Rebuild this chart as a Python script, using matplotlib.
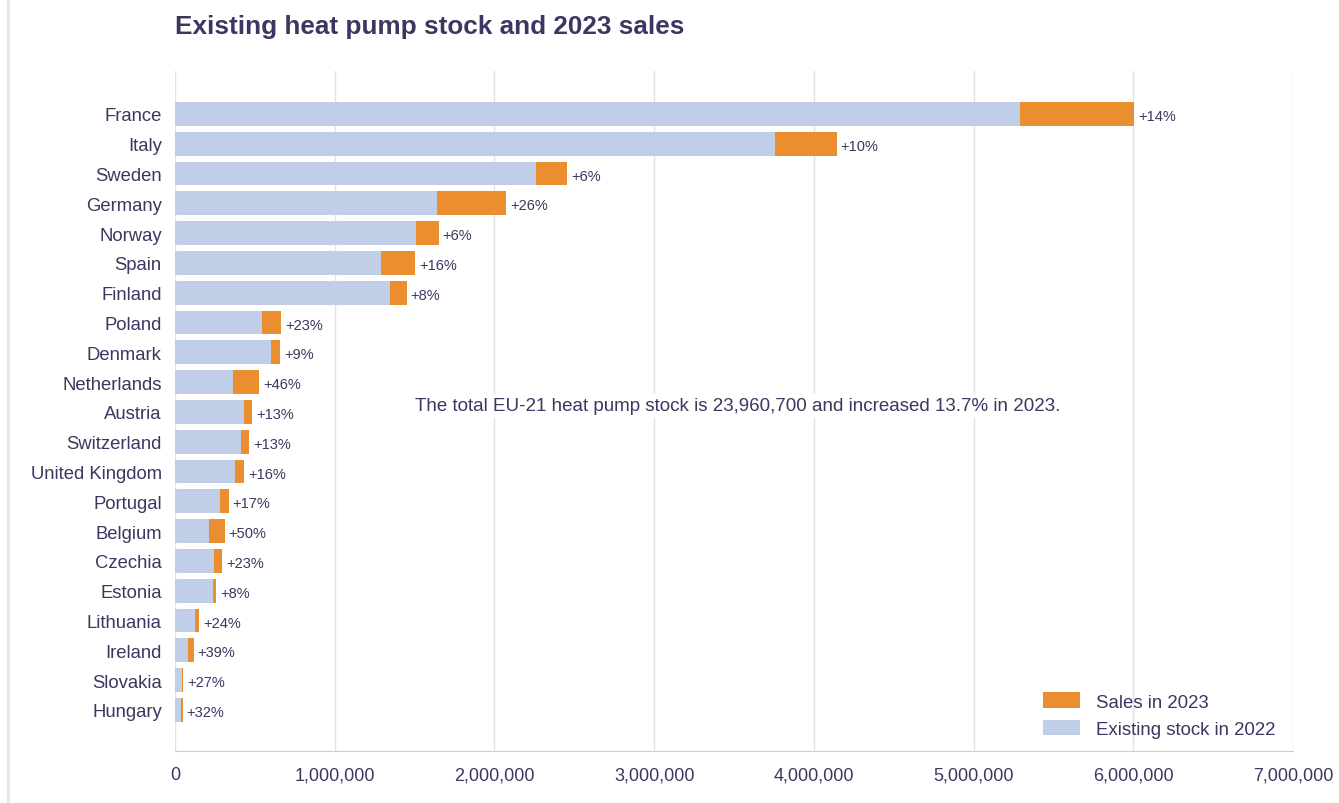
import matplotlib.pyplot as plt
from matplotlib.patches import Patch
from matplotlib.ticker import FuncFormatter

plt.rcParams['font.family'] = ['Liberation Sans', 'DejaVu Sans']

# countries top to bottom
countries = ['France', 'Italy', 'Sweden', 'Germany', 'Norway', 'Spain', 'Finland',
             'Poland', 'Denmark', 'Netherlands', 'Austria', 'Switzerland',
             'United Kingdom', 'Portugal', 'Belgium', 'Czechia', 'Estonia',
             'Lithuania', 'Ireland', 'Slovakia', 'Hungary']
# existing stock in 2022 (units)
stock_2022 = [5288000, 3758000, 2261000, 1638000, 1506000, 1290000, 1343000,
              542000, 603000, 363000, 432000, 413000,
              376000, 284000, 211000, 242000, 238000,
              123000, 83000, 42000, 38000]
# sales in 2023 (units)
sales_2023 = [718000, 384000, 196000, 435000, 144000, 212000, 107000,
              122000, 57000, 165000, 52000, 52000,
              58000, 51000, 100000, 54000, 19000,
              27000, 33000, 11000, 10000]
growth_labels = ['+14%', '+10%', '+6%', '+26%', '+6%', '+16%', '+8%',
                 '+23%', '+9%', '+46%', '+13%', '+13%',
                 '+16%', '+17%', '+50%', '+23%', '+8%',
                 '+24%', '+39%', '+27%', '+32%']
x_ticks = [0, 1000000, 2000000, 3000000, 4000000, 5000000, 6000000, 7000000]
note = 'The total EU-21 heat pump stock is 23,960,700 and increased 13.7% in 2023.'

text_col = '#3b3760'
stock_col = '#c0cee8'
sales_col = '#ea8e30'

fig = plt.figure(figsize=(13.39, 8.04), dpi=100)
ax = fig.add_axes([0.1307, 0.0647, 0.835, 0.8458])

ypos = list(range(len(countries)))
ax.barh(ypos, stock_2022, height=0.8, color=stock_col, zorder=2)
ax.barh(ypos, sales_2023, left=stock_2022, height=0.8, color=sales_col, zorder=2)

for y, s, v, lab in zip(ypos, stock_2022, sales_2023, growth_labels):
    ax.text(s + v + 25000, y + 0.07, lab, va='center', ha='left',
            fontsize=10.5, color=text_col, zorder=3)

ax.set_xlim(0, 7000000)
ax.set_ylim(len(countries) - 1 + 1.38, -1.44)
ax.set_xticks(x_ticks)
ax.xaxis.set_major_formatter(FuncFormatter(lambda v, p: f'{int(v):,}'))
ax.set_yticks(ypos)
ax.set_yticklabels(countries)
ax.tick_params(axis='x', length=0, pad=11, labelsize=13, labelcolor=text_col)
ax.tick_params(axis='y', length=0, pad=9.5, labelsize=13.3, labelcolor=text_col)

ax.grid(axis='x', color='#e3e3e3', linewidth=1, zorder=0)
for side in ['top', 'right', 'left']:
    ax.spines[side].set_visible(False)
ax.spines['bottom'].set_color('#cccccc')
ax.spines['bottom'].set_zorder(3)

ax.text(3520000, 9.78, note, ha='center', va='center', fontsize=13.5, color=text_col,
        zorder=3, bbox=dict(facecolor='white', edgecolor='none', pad=2))

handles = [Patch(facecolor=sales_col, label='Sales in 2023'),
           Patch(facecolor=stock_col, label='Existing stock in 2022')]
ax.legend(handles=handles, loc='lower right', frameon=False, fontsize=13.4,
          labelcolor=text_col, handlelength=2.0, handleheight=0.9,
          handletextpad=0.85, borderaxespad=0.3,
          bbox_to_anchor=(0.9955, 0.0))

fig.text(175 / 1339, 1 - 27 / 804, 'Existing heat pump stock and 2023 sales',
         fontsize=18.8, fontweight='bold', color=text_col, ha='left', va='center')

# faint card edge on the left
fig.add_artist(plt.Line2D([0.006, 0.006], [0, 1], color='#e6e6e6', linewidth=2))

fig.savefig('out.png', dpi=100)
